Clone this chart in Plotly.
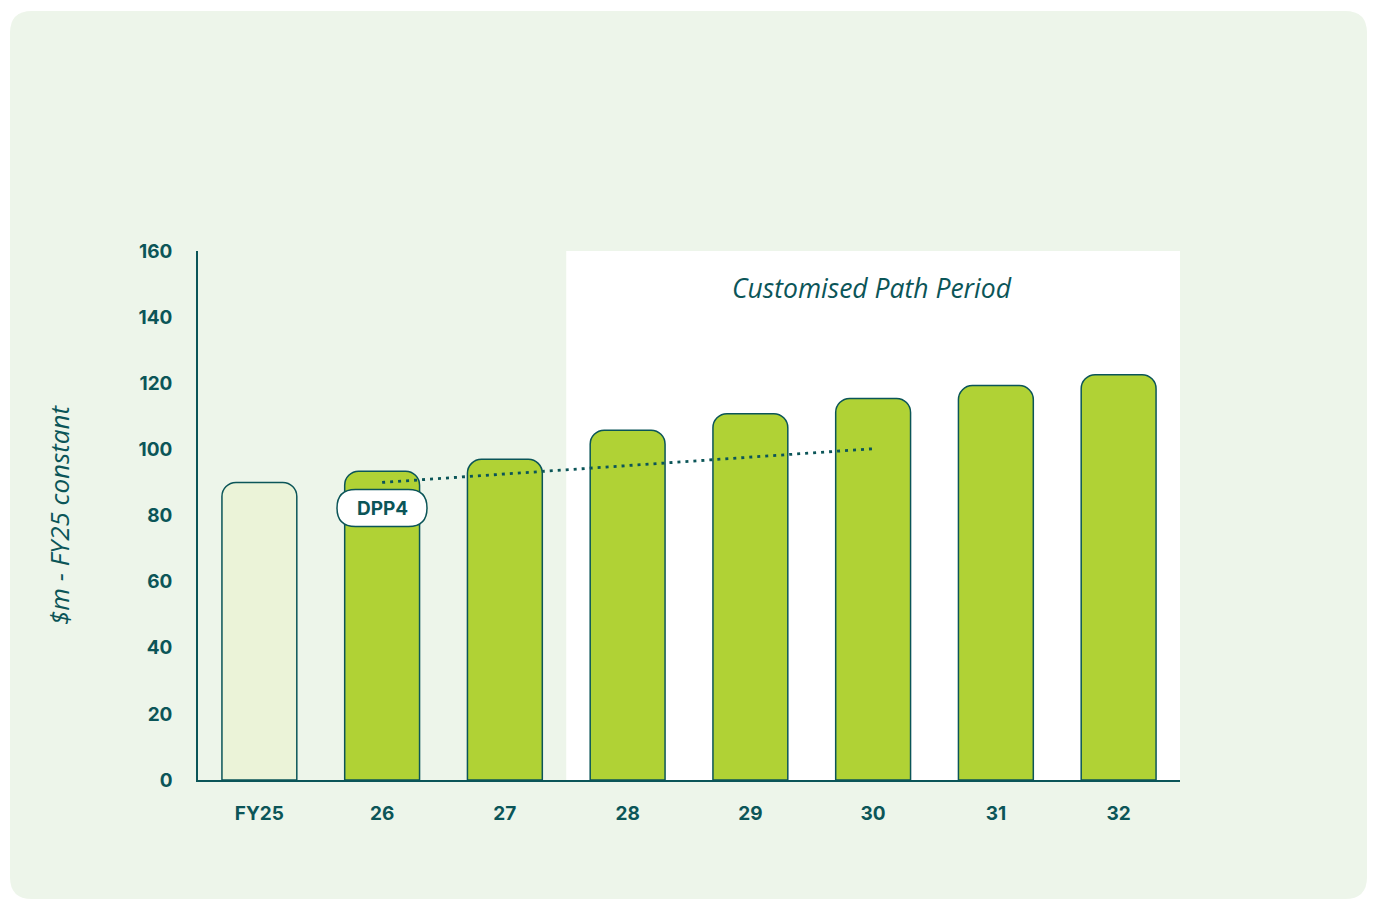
import plotly.graph_objects as go

# ---- data ----
categories = ["FY25", "26", "27", "28", "29", "30", "31", "32"]
values = [90, 93.4, 97.0, 105.8, 110.8, 115.4, 119.3, 122.6]
trend_x = ["26", "30"]
trend_y = [90.0, 100.2]
y_ticks = [0, 20, 40, 60, 80, 100, 120, 140, 160]
label_text = "DPP4"
period_text = "Customised Path Period"
y_title = "$m - FY25 constant"

TEAL = "#0b5558"
GREEN = "#b0d235"
PALE = "#ebf3d8"
PANEL = "#edf5ea"
FONT = "Inter"
IFONT = "Open Sans"

W, H = 1373, 900
ML, MR, MT, MB = 198, 193, 251, 120
PW, PH = W - ML - MR, H - MT - MB


def px2paper(px, py):
    return (px - ML) / PW, (H - MB - py) / PH


def rounded_path(x0, y0, x1, y1, r):
    def P(x, y):
        a, b = px2paper(x, y)
        return f"{a:.5f},{b:.5f}"
    d = f"M{P(x0 + r, y0)} L{P(x1 - r, y0)} Q{P(x1, y0)} {P(x1, y0 + r)} "
    d += f"L{P(x1, y1 - r)} Q{P(x1, y1)} {P(x1 - r, y1)} "
    d += f"L{P(x0 + r, y1)} Q{P(x0, y1)} {P(x0, y1 - r)} "
    d += f"L{P(x0, y0 + r)} Q{P(x0, y0)} {P(x0 + r, y0)} Z"
    return d


bar_colors = [PALE] + [GREEN] * (len(categories) - 1)

fig = go.Figure()
fig.add_trace(go.Bar(
    x=categories, y=values,
    marker=dict(color=bar_colors, line=dict(color=TEAL, width=1.5)),
    hoverinfo="skip", showlegend=False,
))
fig.add_trace(go.Scatter(
    x=trend_x, y=trend_y, mode="lines",
    line=dict(color=TEAL, width=2.8, dash="3px,5px"),
    hoverinfo="skip", showlegend=False,
))

shapes = [
    dict(type="path", xref="paper", yref="paper",
         path=rounded_path(10, 11, 1367, 899, 22),
         fillcolor=PANEL, line=dict(width=0), layer="below"),
    dict(type="rect", xref="x", yref="y", x0=2.5, x1=7.5, y0=0, y1=160,
         fillcolor="white", line=dict(width=0), layer="below"),
    dict(type="path", xref="paper", yref="paper",
         path=rounded_path(337, 489.5, 427, 526.5, 18.5),
         fillcolor="white", line=dict(color=TEAL, width=1.5), layer="above"),
]

annotations = [
    dict(xref="paper", yref="paper", x=px2paper(382, 508)[0], y=px2paper(382, 508)[1],
         text=label_text, showarrow=False, xanchor="center", yanchor="middle",
         font=dict(family=FONT, size=19, color=TEAL, weight="bold")),
    dict(xref="paper", yref="paper", x=px2paper(872, 288)[0], y=px2paper(872, 288)[1],
         text=period_text, showarrow=False, xanchor="center", yanchor="middle",
         font=dict(family=IFONT, size=26.5, color=TEAL, style="italic")),
    dict(xref="paper", yref="paper", x=px2paper(59, 515)[0], y=px2paper(59, 515)[1],
         text=y_title, showarrow=False, xanchor="center", yanchor="middle",
         textangle=-90,
         font=dict(family=IFONT, size=26, color=TEAL, style="italic")),
]

fig.update_layout(
    width=W, height=H,
    margin=dict(l=ML, r=MR, t=MT, b=MB),
    paper_bgcolor="white", plot_bgcolor="rgba(0,0,0,0)",
    bargap=0.39, barcornerradius=14,
    shapes=shapes, annotations=annotations,
    xaxis=dict(showline=True, linecolor=TEAL, linewidth=1.5, showgrid=False,
               zeroline=False, ticks="", ticklabelstandoff=15,
               tickfont=dict(family=FONT, size=19, color=TEAL, weight="bold"),
               range=[-0.5, 7.5]),
    yaxis=dict(showline=True, linecolor=TEAL, linewidth=1.5, showgrid=False,
               zeroline=False, ticks="", range=[0, 160], tickvals=y_ticks,
               ticklabelstandoff=20,
               tickfont=dict(family=FONT, size=19, color=TEAL, weight="bold")),
)

fig.write_html("out.html", config={"displayModeBar": False})
